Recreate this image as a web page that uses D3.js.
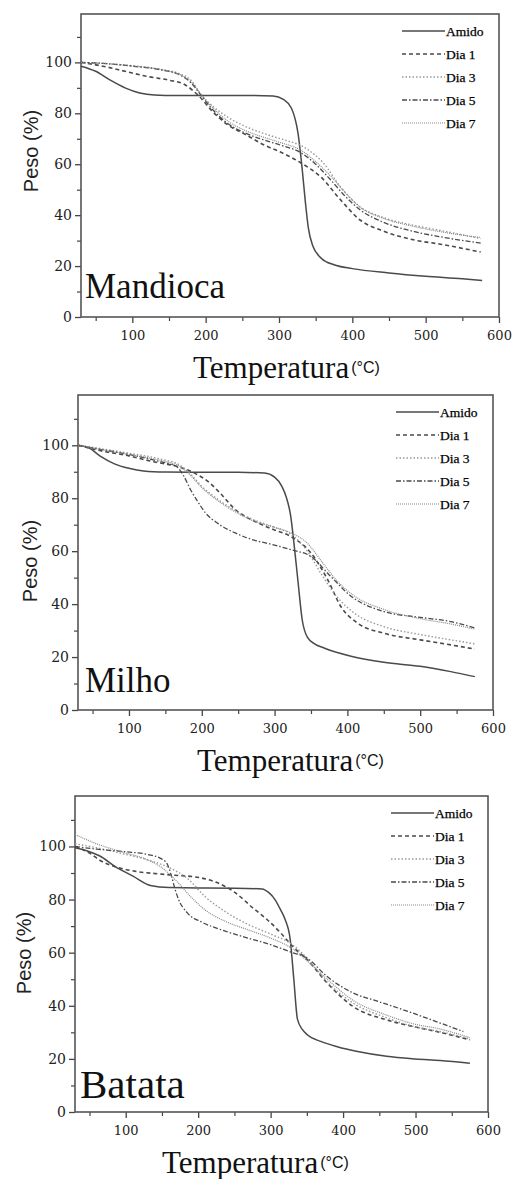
<!DOCTYPE html>
<html>
<head>
<meta charset="utf-8">
<script src="https://cdn.jsdelivr.net/npm/d3@7"></script>
<style>
  body { margin: 0; background: #fff; }
  svg { display: block; }
</style>
</head>
<body>
<div id="chart"></div>
<script>
// series / panels / ticks
var seriesNames = ["Amido", "Dia 1", "Dia 3", "Dia 5", "Dia 7"];
var panelNames = ["Mandioca", "Milho", "Batata"];
var xTicks = [100, 200, 300, 400, 500, 600];
var xMinor = [50, 150, 250, 350, 450, 550];
var yTicks = [0, 20, 40, 60, 80, 100];
var yMinor = [10, 30, 50, 70, 90, 110];

// Mandioca  [temperatura, peso]
var mandiocaAmido = [[30,98.5],[50,96.5],[70,93],[90,90],[110,88],[130,87.2],[160,87],[200,87],[250,87],[292,86.8],[306,85.5],[317,82],[326,72],[332,57],[336,45],[340,35],[346,28],[358,23],[375,20.5],[400,19],[450,17.3],[500,16],[550,15],[577,14.3]];
var mandiocaDia1 = [[30,100],[60,98.5],[90,96.5],[120,94.5],[150,93],[170,91.5],[190,87],[210,80.5],[230,75.5],[256,71.4],[280,67.5],[302,64.8],[330,60.5],[357,55],[384,46],[411,38],[440,34],[485,30.2],[520,28.6],[575,25.5]];
var mandiocaDia3 = [[30,100],[60,99.6],[100,98.7],[140,97.2],[165,95.5],[180,93],[193,87.5],[211,82.5],[230,78.5],[256,74.6],[280,72],[302,70],[338,66],[361,60.3],[384,51],[411,43.2],[440,39.3],[484,36],[520,34],[575,30.8]];
var mandiocaDia5 = [[30,100],[60,99.6],[100,98.5],[140,97],[165,95],[180,92],[195,86.5],[211,81],[230,76],[256,72],[280,69.5],[302,67.5],[330,64.5],[350,60],[370,54],[390,47.5],[411,42],[440,37.5],[485,33.5],[520,31.5],[575,29]];
var mandiocaDia7 = [[30,100],[60,99.6],[100,98.6],[140,97.1],[165,95.2],[180,92.5],[195,87],[211,81.8],[230,77],[256,73],[280,70.5],[302,68.5],[330,65.5],[350,61],[370,55.5],[390,49],[411,43],[440,39],[485,35.5],[520,33.5],[575,31.2]];

// Milho
var milhoAmido = [[30,100],[45,99],[60,96],[80,93],[100,91.3],[120,90.3],[150,89.9],[200,89.8],[250,89.8],[286,89.5],[300,88],[310,84.5],[316,80.5],[322,73.5],[327,62],[332,49],[338,34],[345,27.5],[355,25],[368,23.4],[405,20.3],[450,18],[500,16.5],[542,14.5],[575,12.6]];
var milhoDia1 = [[30,100],[60,98],[100,96],[130,94],[170,91.7],[190,89.5],[210,86],[225,82],[245,76],[277,70.7],[300,68],[322,65.6],[350,59.3],[373,49.2],[391,39.1],[414,32.8],[450,29],[500,26.5],[542,24.6],[575,23]];
var milhoDia3 = [[30,100],[60,98.8],[100,97],[140,95],[170,92.5],[185,89],[200,84.5],[220,80],[245,75.5],[270,72],[300,69],[322,66.5],[345,60],[365,51],[385,43],[410,36.5],[450,31.5],[500,28.5],[542,26.5],[575,25]];
var milhoDia5 = [[30,100],[60,98.5],[100,96.5],[140,94],[165,92],[175,88.5],[185,83],[195,78.5],[205,74.5],[222,70.5],[245,67],[268,64.5],[300,62.3],[322,60.6],[350,58],[377,50.5],[405,43],[450,37.2],[500,35],[542,33.4],[575,31]];
var milhoDia7 = [[30,100],[60,98.5],[100,96.5],[140,94.5],[170,92],[185,88.5],[200,84],[220,79.5],[245,75],[270,71.5],[300,69],[322,67],[345,63],[365,56],[385,49],[410,43],[450,38],[500,34.5],[542,32.5],[575,30.5]];

// Batata
var batataAmido = [[30,99.5],[50,98],[65,96.3],[85,92.5],[110,88.8],[134,85.3],[160,84.5],[200,84.4],[250,84.3],[288,84],[298,82.5],[306,80],[314,76],[320,72.5],[327,65],[332,50],[337,35],[344,31],[351,29],[370,26.5],[392,24.6],[420,22.8],[460,21],[500,20],[534,19.4],[575,18.4]];
var batataDia1 = [[30,100],[50,97.5],[66,94.5],[90,92],[112,90.7],[157,89.4],[203,88.2],[225,86.5],[249,83],[277,76.5],[295,72.5],[314,67.4],[330,62.5],[350,57.5],[378,48.6],[414,39.7],[460,34.7],[500,32],[529,30.3],[575,27.2]];
var batataDia3 = [[30,101],[60,99.5],[100,97],[130,95],[160,92],[185,88],[210,81],[240,75],[270,70.5],[300,67],[330,63],[350,58],[378,49],[414,41],[460,35.5],[500,32],[530,30.5],[575,27.5]];
var batataDia5 = [[30,100],[60,99],[100,98],[130,97],[148,95.5],[157,93.5],[163,89],[168,84],[173,80],[185,75],[205,71.5],[231,68.7],[265,65.8],[300,63],[330,60],[350,58],[378,51],[414,44.8],[450,41.5],[483,38.5],[534,33.5],[566,30.3]];
var batataDia7 = [[30,104.5],[60,101],[100,97.5],[130,95],[150,92],[170,87],[190,81],[210,76],[240,71.5],[270,68.5],[300,65.5],[330,61.5],[350,57],[378,50],[414,42],[460,36.5],[500,33],[530,31.5],[575,28]];

var panelData = [
  [mandiocaAmido, mandiocaDia1, mandiocaDia3, mandiocaDia5, mandiocaDia7],
  [milhoAmido, milhoDia1, milhoDia3, milhoDia5, milhoDia7],
  [batataAmido, batataDia1, batataDia3, batataDia5, batataDia7]
];

var lineStyles = [
  {stroke: "#4a4a4a", dash: null, w: 1.5},
  {stroke: "#4a4a4a", dash: "4,3", w: 1.6},
  {stroke: "#999", dash: "1.5,2", w: 1.4},
  {stroke: "#4a4a4a", dash: "5,2,1.5,2", w: 1.3},
  {stroke: "#888", dash: "1,1", w: 1.2}
];

var layout = [
  {left: 81, right: 499, top: 14, bottom: 317, nameSize: 35, nameX: 85, nameY: 298, tempX: 193, yLabX: 38, yLabY: 151},
  {left: 78, right: 493, top: 395, bottom: 710, nameSize: 35, nameX: 85, nameY: 692, tempX: 197, yLabX: 37, yLabY: 561},
  {left: 75, right: 488, top: 796, bottom: 1112, nameSize: 41, nameX: 80, nameY: 1098, tempX: 162, yLabX: 31, yLabY: 953}
];

var width = 512, height = 1179;
var svg = d3.select("#chart").append("svg")
  .attr("width", width)
  .attr("height", height);

var serif = "'Liberation Serif', 'Times New Roman', serif";
var tickFont = "'DejaVu Serif', serif";
var sans = "'Liberation Sans', Arial, sans-serif";

layout.forEach(function(p, i) {
  var x = d3.scaleLinear().domain([30, 600]).range([p.left, p.right]);
  var y = d3.scaleLinear().domain([0, 119]).range([p.bottom, p.top]);
  var g = svg.append("g");

  // minor ticks
  g.append("g")
    .attr("transform", "translate(0," + p.bottom + ")")
    .call(d3.axisBottom(x).tickValues(xMinor).tickSize(4).tickFormat(""))
    .call(function(a) { a.select(".domain").remove(); })
    .selectAll("line").attr("stroke", "#444").attr("stroke-width", 1.2);
  g.append("g")
    .attr("transform", "translate(" + p.left + ",0)")
    .call(d3.axisLeft(y).tickValues(yMinor).tickSize(4).tickFormat(""))
    .call(function(a) { a.select(".domain").remove(); })
    .selectAll("line").attr("stroke", "#444").attr("stroke-width", 1.2);

  // major ticks + labels
  var xa = g.append("g")
    .attr("transform", "translate(0," + p.bottom + ")")
    .call(d3.axisBottom(x).tickValues(xTicks).tickSize(6).tickPadding(8))
    .call(function(a) { a.select(".domain").remove(); });
  xa.selectAll("line").attr("stroke", "#444").attr("stroke-width", 1.3);
  xa.selectAll("text").attr("font-family", tickFont).attr("font-size", 13).attr("fill", "#222");

  var ya = g.append("g")
    .attr("transform", "translate(" + p.left + ",0)")
    .call(d3.axisLeft(y).tickValues(yTicks).tickSize(6).tickPadding(3))
    .call(function(a) { a.select(".domain").remove(); });
  ya.selectAll("line").attr("stroke", "#444").attr("stroke-width", 1.3);
  ya.selectAll("text").attr("font-family", tickFont).attr("font-size", 14).attr("fill", "#222");

  // frame
  g.append("rect")
    .attr("x", p.left).attr("y", p.top)
    .attr("width", p.right - p.left).attr("height", p.bottom - p.top)
    .attr("fill", "none").attr("stroke", "#555").attr("stroke-width", 1.6);

  // curves
  var line = d3.line()
    .x(function(d) { return x(d[0]); })
    .y(function(d) { return y(d[1]); })
    .curve(d3.curveMonotoneX);

  g.selectAll("path.curve")
    .data(panelData[i])
    .enter()
    .append("path")
    .attr("class", "curve")
    .attr("d", line)
    .attr("fill", "none")
    .attr("stroke", function(d, j) { return lineStyles[j].stroke; })
    .attr("stroke-width", function(d, j) { return lineStyles[j].w; })
    .attr("stroke-dasharray", function(d, j) { return lineStyles[j].dash; });

  // legend
  var leg = g.selectAll("g.leg")
    .data(seriesNames)
    .enter()
    .append("g")
    .attr("class", "leg")
    .attr("transform", function(d, j) { return "translate(0," + (p.top + 17 + 23 * j) + ")"; });
  leg.append("line")
    .attr("x1", p.right - 97).attr("x2", p.right - 54)
    .attr("stroke", function(d, j) { return lineStyles[j].stroke; })
    .attr("stroke-width", function(d, j) { return lineStyles[j].w; })
    .attr("stroke-dasharray", function(d, j) { return lineStyles[j].dash; });
  leg.append("text")
    .attr("x", p.right - 53)
    .attr("dy", "0.35em")
    .attr("font-family", serif)
    .attr("font-size", 13.5)
    .attr("fill", "#000")
    .attr("stroke", "#000")
    .attr("stroke-width", 0.25)
    .text(function(d) { return d; });

  // panel name
  g.append("text")
    .attr("x", p.nameX).attr("y", p.nameY)
    .attr("font-family", serif)
    .attr("font-size", p.nameSize)
    .attr("fill", "#111")
    .text(panelNames[i]);

  // x label
  var xl = g.append("text")
    .attr("x", p.tempX).attr("y", p.bottom + 61)
    .attr("font-family", serif)
    .attr("font-size", 31)
    .attr("fill", "#111");
  xl.append("tspan").text("Temperatura");
  xl.append("tspan")
    .attr("dx", 2).attr("dy", -5)
    .attr("font-family", sans)
    .attr("font-size", 16)
    .text("(°C)");

  // y label
  g.append("text")
    .attr("transform", "translate(" + p.yLabX + "," + p.yLabY + ") rotate(-90)")
    .attr("text-anchor", "middle")
    .attr("font-family", sans)
    .attr("font-size", 20)
    .attr("fill", "#222")
    .text("Peso (%)");
});
</script>
</body>
</html>
